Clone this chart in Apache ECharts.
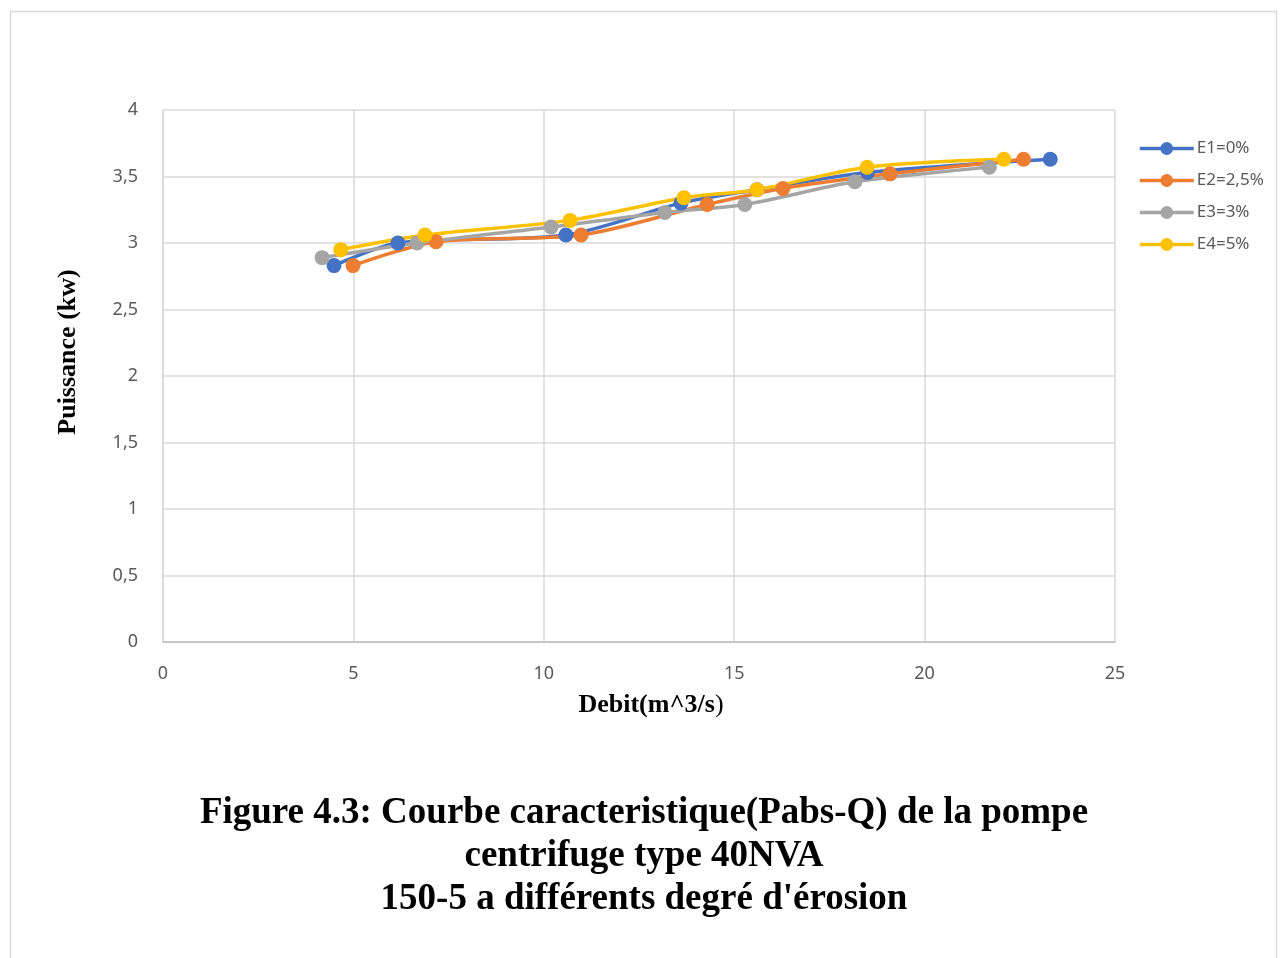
<!DOCTYPE html>
<html>
<head>
<meta charset="utf-8">
<style>
  html, body { margin: 0; padding: 0; background: #fff; }
  #chart { width: 1280px; height: 958px; }
</style>
<script src="https://cdn.jsdelivr.net/npm/echarts@6/dist/echarts.min.js"></script>
</head>
<body>
<div id="chart"></div>
<script>
// séries : débit (x) et puissance (y)
const seriesNames = ['E1=0%', 'E2=2,5%', 'E3=3%', 'E4=5%']
const colors = ['#4472C4', '#ED7D31', '#A5A5A5', '#FFC000']

const e1 = [[4.49, 2.83], [6.17, 3.0], [10.58, 3.06], [13.6, 3.30], [15.6, 3.40], [18.5, 3.53], [23.3, 3.63]]
const e2 = [[4.99, 2.83], [7.17, 3.01], [10.98, 3.06], [14.29, 3.29], [16.28, 3.41], [19.09, 3.52], [22.6, 3.63]]
const e3 = [[4.18, 2.89], [6.67, 3.0], [10.19, 3.12], [13.18, 3.23], [15.28, 3.29], [18.17, 3.46], [21.7, 3.57]]
const e4 = [[4.67, 2.95], [6.88, 3.06], [10.69, 3.17], [13.68, 3.34], [15.6, 3.40], [18.49, 3.57], [22.08, 3.63]]
const allData = [e1, e2, e3, e4]

const chart = echarts.init(document.getElementById('chart'))

const labelFont = '"Noto Sans", "Open Sans", sans-serif'
const serifFont = '"Liberation Serif", "DejaVu Serif", serif'

const option = {
  animation: false,
  backgroundColor: '#fff',
  grid: { left: 163, top: 110, right: 165, bottom: 316 },
  legend: {
    orient: 'vertical',
    left: 1133,
    top: 135,
    itemWidth: 54,
    itemHeight: 16,
    itemGap: 15,
    lineStyle: { width: 3.5 },
    textStyle: { color: '#595959', fontSize: 17, fontFamily: labelFont, padding: [0, 0, 0, -2] },
    data: seriesNames
  },
  xAxis: {
    type: 'value',
    min: 0,
    max: 25,
    interval: 5,
    axisLine: { show: true, lineStyle: { color: '#bfbfbf', width: 1.5 } },
    axisTick: { show: false },
    splitLine: { show: true, lineStyle: { color: '#d9d9d9', width: 1.5 } },
    axisLabel: { color: '#595959', fontSize: 18, fontFamily: labelFont, margin: 23 }
  },
  yAxis: {
    type: 'value',
    min: 0,
    max: 4,
    interval: 0.5,
    axisLine: { show: true, lineStyle: { color: '#d9d9d9', width: 1.5 } },
    axisTick: { show: false },
    splitLine: { show: true, lineStyle: { color: '#d9d9d9', width: 1.5 } },
    axisLabel: {
      color: '#595959', fontSize: 18, fontFamily: labelFont, margin: 25,
      formatter: v => String(v).replace('.', ',')
    }
  },
  graphic: [
    {
      type: 'rect',
      shape: { x: 10.5, y: 11.5, width: 1266, height: 960 },
      style: { fill: 'none', stroke: '#d9d9d9', lineWidth: 1.5 },
      silent: true
    },
    {
      type: 'text',
      x: 68, y: 352,
      rotation: Math.PI / 2,
      style: {
        text: 'Puissance (kw)', fill: '#000',
        font: 'bold 26px ' + serifFont,
        align: 'center', verticalAlign: 'middle'
      }
    },
    {
      type: 'text',
      x: 651, y: 705,
      style: {
        text: '{b|Debit(m^3/s}{r|)}',
        rich: {
          b: { font: 'bold 26px ' + serifFont, fill: '#000' },
          r: { font: '26px ' + serifFont, fill: '#000' }
        },
        align: 'center', verticalAlign: 'middle'
      }
    },
    {
      type: 'text',
      x: 644, y: 856,
      style: {
        text: "Figure 4.3: Courbe caracteristique(Pabs-Q) de la pompe\ncentrifuge type 40NVA\n150-5 a différents degré d'érosion",
        fill: '#000',
        font: 'bold 37px ' + serifFont,
        lineHeight: 43,
        align: 'center', verticalAlign: 'middle'
      }
    }
  ],
  series: allData.map((d, i) => ({
    name: seriesNames[i],
    type: 'line',
    data: d,
    smooth: 0.3,
    symbol: 'circle',
    symbolSize: 15,
    lineStyle: { width: 3.5, color: colors[i] },
    itemStyle: { color: colors[i] }
  }))
}

chart.setOption(option)
</script>
</body>
</html>
